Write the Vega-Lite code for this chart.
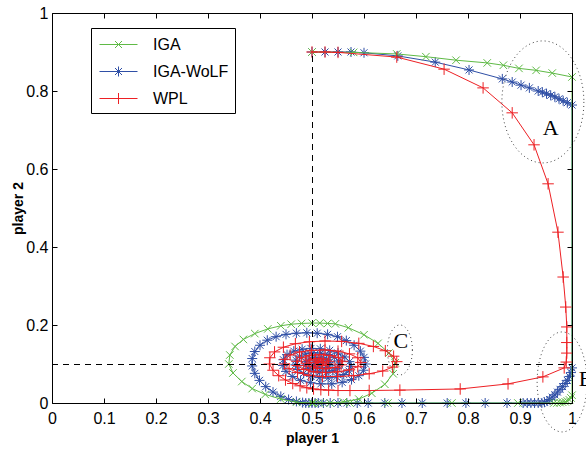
{
"$schema":"https://vega.github.io/schema/vega-lite/v6.json",
"width":520,"height":390,
"autosize":"none",
"padding":{"left":52,"top":13,"right":14,"bottom":53},
"background":"white",
"config":{"view":{"stroke":null},"axis":{"grid":false}},
"datasets":{
"traj":[
{"series":"IGA","x":0.5,"y":0.9},{"series":"IGA","x":0.58,"y":0.899},{"series":"IGA","x":0.663,"y":0.895},{"series":"IGA","x":0.719,"y":0.888},{"series":"IGA","x":0.777,"y":0.879},{"series":"IGA","x":0.837,"y":0.872},{"series":"IGA","x":0.868,"y":0.866},{"series":"IGA","x":0.898,"y":0.858},{"series":"IGA","x":0.931,"y":0.853},{"series":"IGA","x":0.962,"y":0.846},{"series":"IGA","x":1.0,"y":0.836},
{"series":"IGA","x":1.0,"y":0.02},{"series":"IGA","x":0.998,"y":0.013},{"series":"IGA","x":0.995,"y":0.008},{"series":"IGA","x":0.991,"y":0.005},{"series":"IGA","x":0.987,"y":0.003},{"series":"IGA","x":0.982,"y":0.002},{"series":"IGA","x":0.977,"y":0.001},{"series":"IGA","x":0.971,"y":0.0},{"series":"IGA","x":0.965,"y":0.0},
{"series":"IGA","x":0.896,"y":0.0},{"series":"IGA","x":0.769,"y":0.0},{"series":"IGA","x":0.646,"y":0.0},{"series":"IGA","x":0.573,"y":0.0},{"series":"IGA","x":0.502,"y":0.0},
{"series":"IGA","x":0.47,"y":0.002},{"series":"IGA","x":0.44,"y":0.01},{"series":"IGA","x":0.41,"y":0.022},{"series":"IGA","x":0.385,"y":0.037},{"series":"IGA","x":0.365,"y":0.055},{"series":"IGA","x":0.348,"y":0.077},{"series":"IGA","x":0.34,"y":0.1},{"series":"IGA","x":0.342,"y":0.123},{"series":"IGA","x":0.352,"y":0.145},{"series":"IGA","x":0.368,"y":0.163},{"series":"IGA","x":0.39,"y":0.178},{"series":"IGA","x":0.415,"y":0.19},{"series":"IGA","x":0.44,"y":0.198},{"series":"IGA","x":0.46,"y":0.202},{"series":"IGA","x":0.48,"y":0.204},{"series":"IGA","x":0.5,"y":0.205},{"series":"IGA","x":0.515,"y":0.205},{"series":"IGA","x":0.53,"y":0.204},{"series":"IGA","x":0.545,"y":0.203},{"series":"IGA","x":0.57,"y":0.193},{"series":"IGA","x":0.6,"y":0.175},{"series":"IGA","x":0.627,"y":0.153},{"series":"IGA","x":0.648,"y":0.128},{"series":"IGA","x":0.66,"y":0.103},{"series":"IGA","x":0.656,"y":0.075},{"series":"IGA","x":0.64,"y":0.048},{"series":"IGA","x":0.615,"y":0.025},{"series":"IGA","x":0.59,"y":0.01},{"series":"IGA","x":0.56,"y":0.003},{"series":"IGA","x":0.535,"y":0.0},{"series":"IGA","x":0.515,"y":0.0},{"series":"IGA","x":0.5,"y":0.0},

{"series":"IGA-WoLF","x":0.5,"y":0.9},{"series":"IGA-WoLF","x":0.525,"y":0.9},{"series":"IGA-WoLF","x":0.55,"y":0.9},{"series":"IGA-WoLF","x":0.575,"y":0.9},{"series":"IGA-WoLF","x":0.6,"y":0.898},{"series":"IGA-WoLF","x":0.665,"y":0.89},{"series":"IGA-WoLF","x":0.737,"y":0.874},{"series":"IGA-WoLF","x":0.802,"y":0.854},{"series":"IGA-WoLF","x":0.866,"y":0.831},{"series":"IGA-WoLF","x":0.885,"y":0.823},{"series":"IGA-WoLF","x":0.902,"y":0.815},{"series":"IGA-WoLF","x":0.918,"y":0.808},{"series":"IGA-WoLF","x":0.935,"y":0.8},{"series":"IGA-WoLF","x":0.943,"y":0.797},{"series":"IGA-WoLF","x":0.951,"y":0.793},{"series":"IGA-WoLF","x":0.959,"y":0.789},{"series":"IGA-WoLF","x":0.967,"y":0.785},{"series":"IGA-WoLF","x":0.975,"y":0.78},{"series":"IGA-WoLF","x":0.983,"y":0.775},{"series":"IGA-WoLF","x":0.991,"y":0.77},{"series":"IGA-WoLF","x":1.0,"y":0.764},
{"series":"IGA-WoLF","x":1.0,"y":0.09},{"series":"IGA-WoLF","x":0.998,"y":0.078},{"series":"IGA-WoLF","x":0.995,"y":0.068},{"series":"IGA-WoLF","x":0.991,"y":0.058},{"series":"IGA-WoLF","x":0.987,"y":0.05},{"series":"IGA-WoLF","x":0.982,"y":0.042},{"series":"IGA-WoLF","x":0.977,"y":0.035},{"series":"IGA-WoLF","x":0.972,"y":0.028},{"series":"IGA-WoLF","x":0.967,"y":0.021},{"series":"IGA-WoLF","x":0.962,"y":0.015},{"series":"IGA-WoLF","x":0.957,"y":0.009},{"series":"IGA-WoLF","x":0.952,"y":0.005},{"series":"IGA-WoLF","x":0.947,"y":0.002},{"series":"IGA-WoLF","x":0.942,"y":0.0},{"series":"IGA-WoLF","x":0.935,"y":0.0},{"series":"IGA-WoLF","x":0.928,"y":0.0},{"series":"IGA-WoLF","x":0.921,"y":0.0},{"series":"IGA-WoLF","x":0.914,"y":0.0},{"series":"IGA-WoLF","x":0.906,"y":0.0},
{"series":"IGA-WoLF","x":0.875,"y":0.0},{"series":"IGA-WoLF","x":0.833,"y":0.0},{"series":"IGA-WoLF","x":0.796,"y":0.0},{"series":"IGA-WoLF","x":0.76,"y":0.0},{"series":"IGA-WoLF","x":0.712,"y":0.0},{"series":"IGA-WoLF","x":0.673,"y":0.0},{"series":"IGA-WoLF","x":0.64,"y":0.0},{"series":"IGA-WoLF","x":0.608,"y":0.0},{"series":"IGA-WoLF","x":0.587,"y":0.0},{"series":"IGA-WoLF","x":0.567,"y":0.0},{"series":"IGA-WoLF","x":0.55,"y":0.0},{"series":"IGA-WoLF","x":0.535,"y":0.0},{"series":"IGA-WoLF","x":0.522,"y":0.0},{"series":"IGA-WoLF","x":0.512,"y":0.0},{"series":"IGA-WoLF","x":0.506,"y":0.0},{"series":"IGA-WoLF","x":0.5,"y":0.0},{"series":"IGA-WoLF","x":0.494,"y":0.0},{"series":"IGA-WoLF","x":0.488,"y":0.0},{"series":"IGA-WoLF","x":0.482,"y":0.001},
{"series":"IGA-WoLF","x":0.47,"y":0.004},{"series":"IGA-WoLF","x":0.455,"y":0.009},{"series":"IGA-WoLF","x":0.44,"y":0.017},{"series":"IGA-WoLF","x":0.425,"y":0.028},{"series":"IGA-WoLF","x":0.411,"y":0.042},{"series":"IGA-WoLF","x":0.399,"y":0.058},{"series":"IGA-WoLF","x":0.39,"y":0.076},{"series":"IGA-WoLF","x":0.385,"y":0.095},{"series":"IGA-WoLF","x":0.385,"y":0.114},{"series":"IGA-WoLF","x":0.39,"y":0.132},{"series":"IGA-WoLF","x":0.4,"y":0.148},{"series":"IGA-WoLF","x":0.414,"y":0.161},{"series":"IGA-WoLF","x":0.431,"y":0.17},{"series":"IGA-WoLF","x":0.45,"y":0.176},{"series":"IGA-WoLF","x":0.47,"y":0.179},{"series":"IGA-WoLF","x":0.49,"y":0.18},{"series":"IGA-WoLF","x":0.51,"y":0.179},{"series":"IGA-WoLF","x":0.53,"y":0.176},{"series":"IGA-WoLF","x":0.549,"y":0.17},{"series":"IGA-WoLF","x":0.566,"y":0.16},{"series":"IGA-WoLF","x":0.581,"y":0.148},{"series":"IGA-WoLF","x":0.593,"y":0.133},{"series":"IGA-WoLF","x":0.6,"y":0.117},{"series":"IGA-WoLF","x":0.603,"y":0.1},{"series":"IGA-WoLF","x":0.599,"y":0.084},{"series":"IGA-WoLF","x":0.59,"y":0.07},{"series":"IGA-WoLF","x":0.576,"y":0.06},{"series":"IGA-WoLF","x":0.558,"y":0.053},{"series":"IGA-WoLF","x":0.538,"y":0.049},{"series":"IGA-WoLF","x":0.517,"y":0.049},{"series":"IGA-WoLF","x":0.497,"y":0.052},{"series":"IGA-WoLF","x":0.478,"y":0.058},{"series":"IGA-WoLF","x":0.462,"y":0.068},{"series":"IGA-WoLF","x":0.45,"y":0.081},{"series":"IGA-WoLF","x":0.444,"y":0.096},{"series":"IGA-WoLF","x":0.445,"y":0.111},{"series":"IGA-WoLF","x":0.452,"y":0.124},{"series":"IGA-WoLF","x":0.465,"y":0.133},{"series":"IGA-WoLF","x":0.481,"y":0.138},{"series":"IGA-WoLF","x":0.498,"y":0.14},{"series":"IGA-WoLF","x":0.516,"y":0.139},{"series":"IGA-WoLF","x":0.534,"y":0.135},{"series":"IGA-WoLF","x":0.55,"y":0.128},{"series":"IGA-WoLF","x":0.563,"y":0.118},{"series":"IGA-WoLF","x":0.572,"y":0.106},{"series":"IGA-WoLF","x":0.575,"y":0.094},{"series":"IGA-WoLF","x":0.571,"y":0.082},{"series":"IGA-WoLF","x":0.561,"y":0.073},{"series":"IGA-WoLF","x":0.547,"y":0.067},{"series":"IGA-WoLF","x":0.531,"y":0.064},{"series":"IGA-WoLF","x":0.514,"y":0.065},{"series":"IGA-WoLF","x":0.498,"y":0.069},{"series":"IGA-WoLF","x":0.484,"y":0.076},{"series":"IGA-WoLF","x":0.473,"y":0.086},{"series":"IGA-WoLF","x":0.468,"y":0.098},{"series":"IGA-WoLF","x":0.469,"y":0.11},{"series":"IGA-WoLF","x":0.476,"y":0.12},{"series":"IGA-WoLF","x":0.488,"y":0.126},{"series":"IGA-WoLF","x":0.502,"y":0.129},{"series":"IGA-WoLF","x":0.517,"y":0.128},{"series":"IGA-WoLF","x":0.531,"y":0.124},{"series":"IGA-WoLF","x":0.543,"y":0.117},{"series":"IGA-WoLF","x":0.551,"y":0.108},{"series":"IGA-WoLF","x":0.553,"y":0.098},{"series":"IGA-WoLF","x":0.549,"y":0.089},{"series":"IGA-WoLF","x":0.54,"y":0.083},{"series":"IGA-WoLF","x":0.528,"y":0.079},{"series":"IGA-WoLF","x":0.515,"y":0.079},{"series":"IGA-WoLF","x":0.503,"y":0.082},{"series":"IGA-WoLF","x":0.493,"y":0.088},{"series":"IGA-WoLF","x":0.487,"y":0.097},{"series":"IGA-WoLF","x":0.488,"y":0.106},{"series":"IGA-WoLF","x":0.495,"y":0.113},{"series":"IGA-WoLF","x":0.506,"y":0.117},{"series":"IGA-WoLF","x":0.518,"y":0.116},{"series":"IGA-WoLF","x":0.528,"y":0.112},{"series":"IGA-WoLF","x":0.534,"y":0.105},{"series":"IGA-WoLF","x":0.534,"y":0.097},{"series":"IGA-WoLF","x":0.527,"y":0.091},{"series":"IGA-WoLF","x":0.517,"y":0.089},{"series":"IGA-WoLF","x":0.507,"y":0.092},{"series":"IGA-WoLF","x":0.502,"y":0.098},{"series":"IGA-WoLF","x":0.505,"y":0.104},{"series":"IGA-WoLF","x":0.513,"y":0.106},{"series":"IGA-WoLF","x":0.52,"y":0.102},

{"series":"WPL","x":0.5,"y":0.9},{"series":"WPL","x":0.525,"y":0.9},{"series":"WPL","x":0.55,"y":0.899},{"series":"WPL","x":0.663,"y":0.887},{"series":"WPL","x":0.754,"y":0.856},{"series":"WPL","x":0.829,"y":0.808},{"series":"WPL","x":0.885,"y":0.744},{"series":"WPL","x":0.927,"y":0.662},{"series":"WPL","x":0.954,"y":0.562},{"series":"WPL","x":0.973,"y":0.438},{"series":"WPL","x":0.983,"y":0.323},{"series":"WPL","x":0.988,"y":0.246},{"series":"WPL","x":0.99,"y":0.195},{"series":"WPL","x":0.99,"y":0.155},{"series":"WPL","x":0.99,"y":0.128},{"series":"WPL","x":0.989,"y":0.105},{"series":"WPL","x":0.985,"y":0.09},{"series":"WPL","x":0.944,"y":0.067},{"series":"WPL","x":0.877,"y":0.049},{"series":"WPL","x":0.785,"y":0.036},{"series":"WPL","x":0.669,"y":0.033},{"series":"WPL","x":0.61,"y":0.032},{"series":"WPL","x":0.573,"y":0.032},{"series":"WPL","x":0.55,"y":0.032},{"series":"WPL","x":0.532,"y":0.033},{"series":"WPL","x":0.517,"y":0.034},{"series":"WPL","x":0.503,"y":0.036},{"series":"WPL","x":0.49,"y":0.039},{"series":"WPL","x":0.477,"y":0.044},{"series":"WPL","x":0.463,"y":0.05},{"series":"WPL","x":0.449,"y":0.059},{"series":"WPL","x":0.436,"y":0.07},{"series":"WPL","x":0.425,"y":0.084},{"series":"WPL","x":0.418,"y":0.1},{"series":"WPL","x":0.419,"y":0.116},{"series":"WPL","x":0.428,"y":0.131},{"series":"WPL","x":0.445,"y":0.143},{"series":"WPL","x":0.468,"y":0.152},{"series":"WPL","x":0.495,"y":0.157},{"series":"WPL","x":0.525,"y":0.159},{"series":"WPL","x":0.557,"y":0.158},{"series":"WPL","x":0.59,"y":0.153},{"series":"WPL","x":0.618,"y":0.145},{"series":"WPL","x":0.641,"y":0.134},{"series":"WPL","x":0.657,"y":0.12},{"series":"WPL","x":0.663,"y":0.106},{"series":"WPL","x":0.655,"y":0.092},{"series":"WPL","x":0.636,"y":0.082},{"series":"WPL","x":0.61,"y":0.075},{"series":"WPL","x":0.58,"y":0.07},{"series":"WPL","x":0.549,"y":0.068},{"series":"WPL","x":0.52,"y":0.068},{"series":"WPL","x":0.494,"y":0.071},{"series":"WPL","x":0.472,"y":0.078},{"series":"WPL","x":0.456,"y":0.088},{"series":"WPL","x":0.447,"y":0.1},{"series":"WPL","x":0.448,"y":0.112},{"series":"WPL","x":0.458,"y":0.123},{"series":"WPL","x":0.476,"y":0.131},{"series":"WPL","x":0.499,"y":0.135},{"series":"WPL","x":0.525,"y":0.136},{"series":"WPL","x":0.55,"y":0.133},{"series":"WPL","x":0.572,"y":0.126},{"series":"WPL","x":0.588,"y":0.116},{"series":"WPL","x":0.594,"y":0.104},{"series":"WPL","x":0.588,"y":0.093},{"series":"WPL","x":0.572,"y":0.085},{"series":"WPL","x":0.55,"y":0.08},{"series":"WPL","x":0.526,"y":0.078},{"series":"WPL","x":0.503,"y":0.08},{"series":"WPL","x":0.484,"y":0.086},{"series":"WPL","x":0.472,"y":0.096},{"series":"WPL","x":0.471,"y":0.107},{"series":"WPL","x":0.48,"y":0.116},{"series":"WPL","x":0.496,"y":0.122},{"series":"WPL","x":0.515,"y":0.124},{"series":"WPL","x":0.535,"y":0.122},{"series":"WPL","x":0.551,"y":0.116},{"series":"WPL","x":0.559,"y":0.107},{"series":"WPL","x":0.556,"y":0.098},{"series":"WPL","x":0.544,"y":0.091},{"series":"WPL","x":0.527,"y":0.088},{"series":"WPL","x":0.51,"y":0.089},{"series":"WPL","x":0.496,"y":0.094},{"series":"WPL","x":0.489,"y":0.102},{"series":"WPL","x":0.494,"y":0.11},{"series":"WPL","x":0.507,"y":0.114},{"series":"WPL","x":0.522,"y":0.113},{"series":"WPL","x":0.532,"y":0.107},{"series":"WPL","x":0.531,"y":0.1},{"series":"WPL","x":0.521,"y":0.096},{"series":"WPL","x":0.51,"y":0.098},{"series":"WPL","x":0.506,"y":0.104},{"series":"WPL","x":0.512,"y":0.108},{"series":"WPL","x":0.518,"y":0.104}
],
"vref":[{"x":0.5,"y":0,"y2":0.9}],
"href":[{"x":0,"x2":1,"y":0.1}],
"regions":[{"name":"A","cx":0.944,"cy":0.772,"lx":0.959,"ly":0.706},{"name":"B","cx":0.981,"cy":0.054,"lx":1.027,"ly":0.062},{"name":"C","cx":0.669,"cy":0.136,"lx":0.671,"ly":0.159}]
},
"data":{"name":"traj"},
"layer":[
{"transform":[{"filter":"datum.series === 'IGA-WoLF'"}],
 "mark":{"type":"line","strokeWidth":1,"clip":false},
 "encoding":{
  "x":{"field":"x","type":"quantitative","scale":{"domain":[0,1],"nice":false},
   "axis":{"orient":"bottom","values":[0,0.1,0.2,0.3,0.4,0.5,0.6,0.7,0.8,0.9,1],"format":"~g","tickSize":-5,"tickColor":"black","domainColor":"black","labelPadding":12,"labelFont":"Liberation Sans","labelFontSize":16,"labelColor":"black","labelFlush":false,"labelOverlap":false,"title":"player 1","titleFont":"Liberation Sans","titleFontSize":14,"titleFontWeight":"bold","titleColor":"black","titleY":35,"titleBaseline":"middle","zindex":1}},
  "y":{"field":"y","type":"quantitative","scale":{"domain":[0,1],"nice":false},
   "axis":{"orient":"left","values":[0,0.2,0.4,0.6,0.8,1],"format":"~g","tickSize":-5,"tickColor":"black","domainColor":"black","labelPadding":9,"labelFont":"Liberation Sans","labelFontSize":16,"labelColor":"black","labelFlush":false,"labelOverlap":false,"title":"player 2","titleFont":"Liberation Sans","titleFontSize":14,"titleFontWeight":"bold","titleColor":"black","titleX":-34,"titleY":195,"titleAlign":"center","titleBaseline":"middle","zindex":1}},
  "color":{"field":"series","type":"nominal","scale":{"domain":["IGA","IGA-WoLF","WPL"],"range":["#5fba46","#2f4fa6","#ed2024"]},
   "legend":{"orient":"none","legendX":39,"legendY":15,"title":null,"strokeColor":"black","fillColor":"white","padding":6,"symbolSize":400,"symbolOffset":11,"labelOffset":24,"rowPadding":8,"labelFont":"Liberation Sans","labelFontSize":16,"labelColor":"black","cornerRadius":0,
    "encoding":{"symbols":{
      "shape":{"value":{"expr":"datum.value === 'IGA' ? 'M-1.9,0L1.9,0M-0.35,-0.35L0.35,0.35M-0.35,0.35L0.35,-0.35' : datum.value === 'WPL' ? 'M-1.9,0L1.9,0M0,-0.55L0,0.55' : 'M-1.9,0L1.9,0M0,-0.5L0,0.5M-0.35,-0.35L0.35,0.35M-0.35,0.35L0.35,-0.35'"}},
      "stroke":{"value":{"expr":"scale('color', datum.value)"}},
      "fill":{"value":"transparent"},
      "strokeWidth":{"value":1},
      "opacity":{"value":1}}}}},
  "order":{"value":null}}},
{"transform":[{"filter":"datum.series === 'IGA-WoLF'"}],
 "mark":{"type":"point","filled":false,"strokeWidth":1,"size":100,"opacity":1,"clip":false,"shape":"M0,-1L0,1M-1,0L1,0M-0.7,-0.7L0.7,0.7M-0.7,0.7L0.7,-0.7"},
 "encoding":{"x":{"field":"x","type":"quantitative","axis":null},"y":{"field":"y","type":"quantitative","axis":null},"color":{"field":"series","type":"nominal"}}},
{"transform":[{"filter":"datum.series === 'IGA'"}],
 "mark":{"type":"line","strokeWidth":1,"clip":false},
 "encoding":{"x":{"field":"x","type":"quantitative","axis":null},"y":{"field":"y","type":"quantitative","axis":null},"color":{"field":"series","type":"nominal"},"order":{"value":null}}},
{"transform":[{"filter":"datum.series === 'IGA'"}],
 "mark":{"type":"point","filled":false,"strokeWidth":1,"size":100,"opacity":1,"clip":false,"shape":"M-0.75,-0.75L0.75,0.75M-0.75,0.75L0.75,-0.75"},
 "encoding":{"x":{"field":"x","type":"quantitative","axis":null},"y":{"field":"y","type":"quantitative","axis":null},"color":{"field":"series","type":"nominal"}}},
{"transform":[{"filter":"datum.series === 'WPL'"}],
 "mark":{"type":"line","strokeWidth":1,"clip":false},
 "encoding":{"x":{"field":"x","type":"quantitative","axis":null},"y":{"field":"y","type":"quantitative","axis":null},"color":{"field":"series","type":"nominal"},"order":{"value":null}}},
{"transform":[{"filter":"datum.series === 'WPL'"}],
 "mark":{"type":"point","filled":false,"strokeWidth":1,"size":100,"opacity":1,"clip":false,"shape":"M0,-1.15L0,1.15M-1.15,0L1.15,0"},
 "encoding":{"x":{"field":"x","type":"quantitative","axis":null},"y":{"field":"y","type":"quantitative","axis":null},"color":{"field":"series","type":"nominal"}}},
{"data":{"name":"vref"},
 "mark":{"type":"rule","color":"black","strokeWidth":1,"strokeDash":[6,5],"xOffset":0.5},
 "encoding":{
  "x":{"field":"x","type":"quantitative","axis":{"orient":"top","values":[0,0.1,0.2,0.3,0.4,0.5,0.6,0.7,0.8,0.9,1],"labels":false,"tickSize":-5,"tickColor":"black","domainColor":"black","title":null,"zindex":1}},
  "y":{"field":"y","type":"quantitative","axis":{"orient":"right","values":[0,0.2,0.4,0.6,0.8,1],"labels":false,"tickSize":-5,"tickColor":"black","domainColor":"black","title":null,"zindex":1}},
  "y2":{"field":"y2"}}},
{"data":{"name":"href"},
 "mark":{"type":"rule","color":"black","strokeWidth":1,"strokeDash":[6,5],"yOffset":0.5},
 "encoding":{"x":{"field":"x","type":"quantitative","axis":null},"x2":{"field":"x2"},"y":{"field":"y","type":"quantitative","axis":null}}},
{"data":{"name":"regions"},"transform":[{"filter":"datum.name === 'A'"}],
 "mark":{"type":"point","filled":false,"stroke":"#444","strokeWidth":1,"strokeDash":[1,3],"size":14884,"opacity":1,"clip":false,
  "shape":"M0.672,0C0.672,0.5523,0.3711,1,0,1C-0.3711,1,-0.672,0.5523,-0.672,0C-0.672,-0.5523,-0.3711,-1,0,-1C0.3711,-1,0.672,-0.5523,0.672,0Z"},
 "encoding":{"x":{"field":"cx","type":"quantitative","axis":null},"y":{"field":"cy","type":"quantitative","axis":null}}},
{"data":{"name":"regions"},"transform":[{"filter":"datum.name === 'B'"}],
 "mark":{"type":"point","filled":false,"stroke":"#444","strokeWidth":1,"strokeDash":[1,3],"size":10000,"opacity":1,"clip":false,
  "shape":"M0.5,0C0.5,0.5523,0.2762,1,0,1C-0.2762,1,-0.5,0.5523,-0.5,0C-0.5,-0.5523,-0.2762,-1,0,-1C0.2762,-1,0.5,-0.5523,0.5,0Z"},
 "encoding":{"x":{"field":"cx","type":"quantitative","axis":null},"y":{"field":"cy","type":"quantitative","axis":null}}},
{"data":{"name":"regions"},"transform":[{"filter":"datum.name === 'C'"}],
 "mark":{"type":"point","filled":false,"stroke":"#444","strokeWidth":1,"strokeDash":[1,3],"size":2500,"opacity":1,"clip":false,
  "shape":"M0.5,0C0.5,0.5523,0.2762,1,0,1C-0.2762,1,-0.5,0.5523,-0.5,0C-0.5,-0.5523,-0.2762,-1,0,-1C0.2762,-1,0.5,-0.5523,0.5,0Z"},
 "encoding":{"x":{"field":"cx","type":"quantitative","axis":null},"y":{"field":"cy","type":"quantitative","axis":null}}},
{"data":{"name":"regions"},
 "mark":{"type":"text","font":"Liberation Serif","fontSize":22,"color":"black","align":"center","baseline":"middle","clip":false},
 "encoding":{"x":{"field":"lx","type":"quantitative","axis":null},"y":{"field":"ly","type":"quantitative","axis":null},"text":{"field":"name"}}}
]
}
